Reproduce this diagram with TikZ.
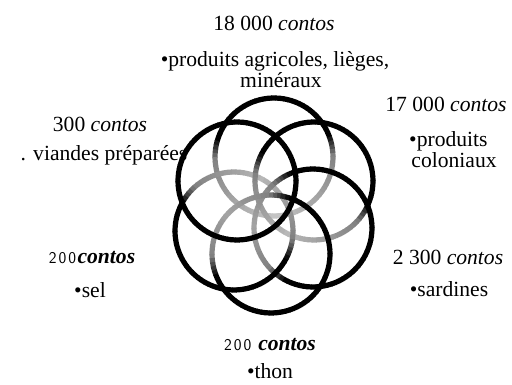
\documentclass[tikz,border=0pt]{standalone}
\usepackage{fontspec}
\setmainfont{Liberation Serif}
\newcommand{\smallnum}{{\sffamily\fontsize{16.5}{16.5}\selectfont 2\kern2pt0\kern2pt0\kern1.5pt}}
\newcommand{\bic}{\textbf{\textit{contos}}}
\newcommand{\ringarc}[5]{%
  \foreach \t in {0,4,...,356}{%
    \pgfmathsetmacro{\mrel}{mod(\t-(#3)+720,360)}%
    \pgfmathsetmacro{\myspan}{(#4)-(#3)}%
    \pgfmathsetmacro{\mdd}{\mrel<=\myspan ? 0 : min(\mrel-\myspan,360-\mrel)}%
    \pgfmathtruncatemacro{\mvv}{\mdd==0 ? 100 : (\mdd<20 ? 100-2.5*\mdd : max(20,50-0.3*(\mdd-20)))}%
    \pgfmathtruncatemacro{\mbb}{\mvv>=80 ? 3 : (\mvv>=40 ? 2 : 1)}%
    \ifnum\mbb=#5\relax
      \draw[ring, black!\mvv] (#1,#2) ++(\t:59) arc[start angle=\t, end angle=\t+4.6, radius=59];
    \fi
  }}
\begin{document}
\begin{tikzpicture}[x=1pt,y=1pt,
  ring/.style={line width=5.2pt, line cap=butt},
  lbl/.style={inner sep=0pt, font=\fontsize{21.6}{21.6}\selectfont}]
\useasboundingbox (0,0) rectangle (512,385);
\fill[white] (0,0) rectangle (512,385);
\foreach \band in {1,2,3}{
  \ringarc{274}{228}{20}{160}{\band}
  \ringarc{314}{204}{-25}{150}{\band}
  \ringarc{313}{157}{-120}{110}{\band}
  \ringarc{271}{131}{-160}{70}{\band}
  \ringarc{234}{154}{150}{330}{\band}
  \ringarc{237}{204}{0}{360}{\band}
}
% labels
\node[lbl, anchor=base] (t18) at (274,354) {18 000 \textit{contos}};
\node[lbl, anchor=base] (t18b) at (275,318) {•produits agricoles, lièges,};
\node[lbl, anchor=base] (t18c) at (281,297) {minéraux};
\node[lbl, anchor=base] (t17) at (446,273) {17 000 \textit{contos}};
\node[lbl, anchor=base west] (t17b) at (409,238) {•produits};
\node[lbl, anchor=base] (t17c) at (454,217) {coloniaux};
\node[lbl, anchor=base] (t300) at (100,253) {300 \textit{contos}};
\node[lbl, anchor=base] (tvi) at (104,224) {. viandes préparées};
\node[lbl, anchor=base] (t200l) at (92,121) {\smallnum\bic};
\node[lbl, anchor=base] (tsel) at (90,87) {•sel};
\node[lbl, anchor=base] (t2300) at (448,120) {2 300 \textit{contos}};
\node[lbl, anchor=base] (tsar) at (449,88) {•sardines};
\node[lbl, anchor=base] (t200b) at (270,34) {\smallnum\ \bic};
\node[lbl, anchor=base] (tthon) at (270,6) {•thon};
\end{tikzpicture}
\end{document}
